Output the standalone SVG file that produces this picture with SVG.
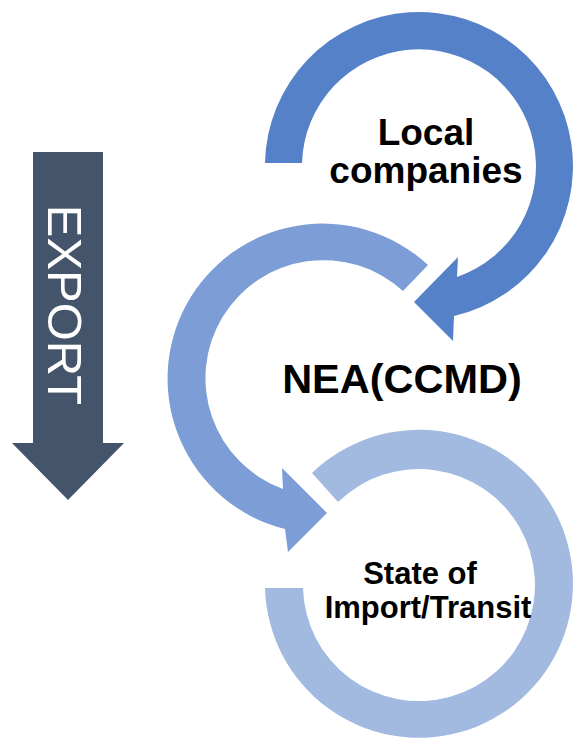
<svg xmlns="http://www.w3.org/2000/svg" width="574" height="742" viewBox="0 0 574 742">
  <style>
    .lbl { font-family: "Liberation Sans", Arial, sans-serif; font-weight: bold; fill: #000; text-anchor: middle; }
    .exp { font-family: "Liberation Sans", Arial, sans-serif; font-size: 49px; fill: #fff; text-anchor: middle; }
  </style>
  <rect width="574" height="742" fill="#fff"/>
  <g id="export">
    <polygon points="33,152 103,152 103,443 124,443 68,500 12,443 33,443" fill="#44546A"/>
    <text class="exp" transform="translate(48,305) rotate(90)" x="0" y="0">EXPORT</text>
  </g>
  <g id="connectors">
    <path id="arc3" d="M312,473 A154,154 0 1 1 265,588 L303,588 A116,116 0 1 0 338,502 Z" fill="#A2B9E0"/>
    <path id="arc2" d="M428,265 A155,155 0 1 0 285,529 L288,552 L327,513 L282,468 L283,489 A118,118 0 1 1 403,291 Z" fill="#7C9DD5"/>
    <path id="arc1" d="M265,163 A154,154 0 1 1 454,316 L453,341 L414,302 L458,257 L457,277 A117,117 0 1 0 302,163 Z" fill="#5581C9"/>
  </g>
  <g id="local">
    <text class="lbl" font-size="37" x="426" y="145">Local</text>
    <text class="lbl" font-size="37" x="426" y="183">companies</text>
  </g>
  <g id="nea">
    <text class="lbl" font-size="41.5" x="402" y="393">NEA(CCMD)</text>
  </g>
  <g id="state">
    <text class="lbl" font-size="31" x="420" y="584">State of</text>
    <text class="lbl" font-size="31" x="428" y="618">Import/Transit</text>
  </g>
</svg>
